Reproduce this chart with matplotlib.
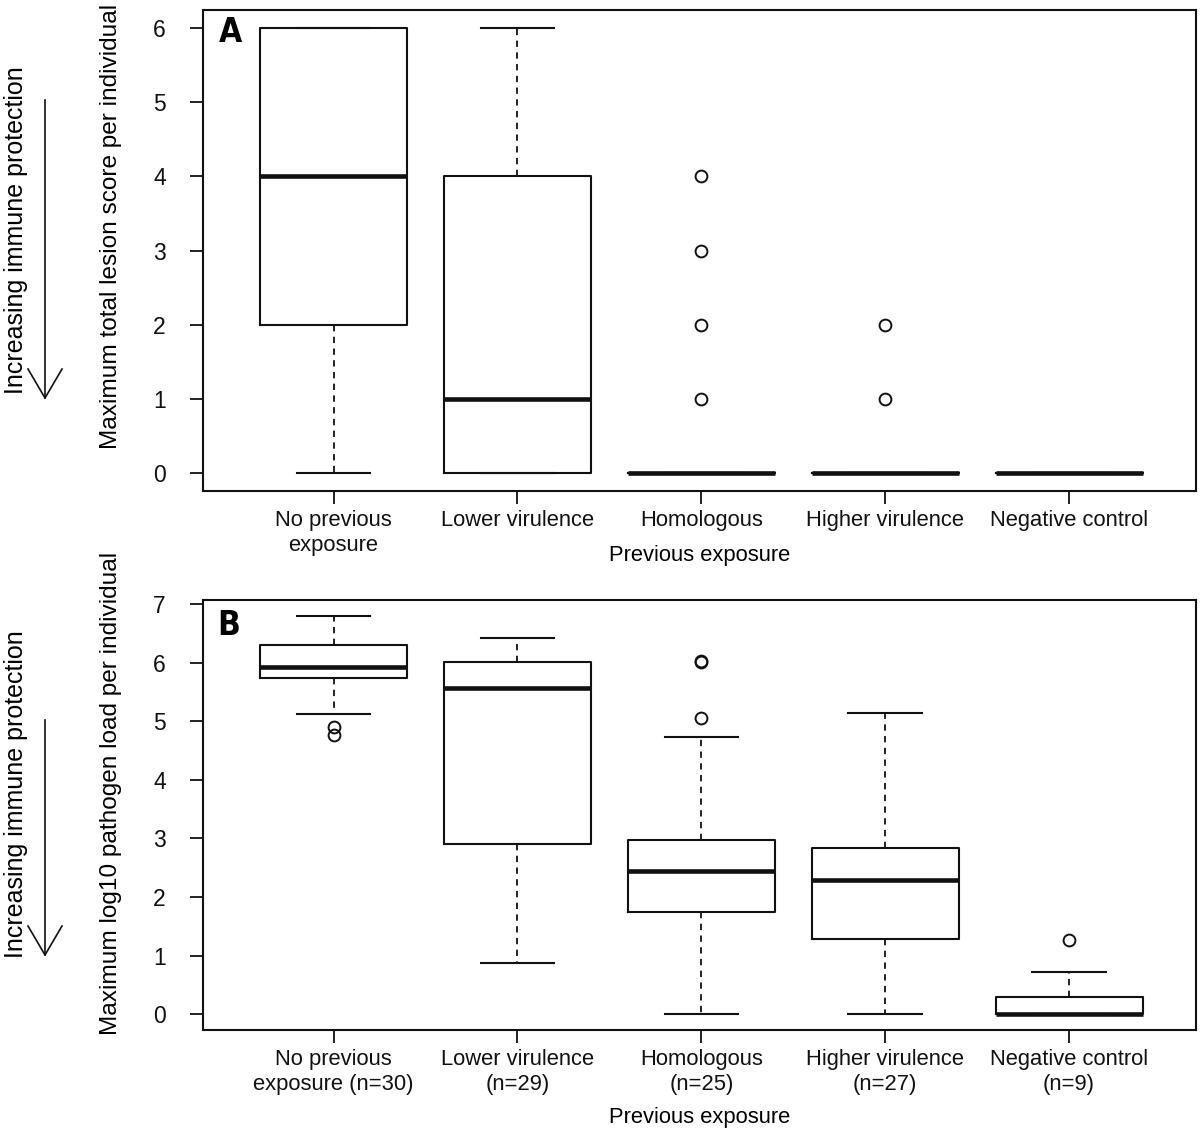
import matplotlib
matplotlib.use("Agg")
import matplotlib.pyplot as plt
from matplotlib.lines import Line2D

plt.rcParams['font.family'] = ['Liberation Sans', 'DejaVu Sans']

# ---------------- data ----------------
labels_A = ["No previous\nexposure", "Lower virulence", "Homologous",
            "Higher virulence", "Negative control"]
labels_B = ["No previous\nexposure (n=30)", "Lower virulence\n(n=29)",
            "Homologous\n(n=25)", "Higher virulence\n(n=27)",
            "Negative control\n(n=9)"]

A_whislo = [0, 0, 0, 0, 0]
A_q1 = [2, 0, 0, 0, 0]
A_med = [4, 1, 0, 0, 0]
A_q3 = [6, 4, 0, 0, 0]
A_whishi = [6, 6, 0, 0, 0]
A_fliers = [[], [], [1, 2, 3, 4], [1, 2], []]

B_whislo = [5.12, 0.88, 0.0, 0.0, 0.0]
B_q1 = [5.74, 2.91, 1.74, 1.29, 0.0]
B_med = [5.92, 5.57, 2.44, 2.29, 0.0]
B_q3 = [6.30, 6.02, 2.97, 2.84, 0.29]
B_whishi = [6.80, 6.43, 4.74, 5.14, 0.72]
B_fliers = [[4.90, 4.76], [], [6.03, 6.01, 5.06], [], [1.27]]

A_yticks = [0, 1, 2, 3, 4, 5, 6]
B_yticks = [0, 1, 2, 3, 4, 5, 6, 7]

# ---------------- layout helpers ----------------
W, H = 1200, 1131
fig = plt.figure(figsize=(W / 100, H / 100), dpi=100)


def fx(px):
    return px / W


def fy(py):
    return 1 - py / H


def make_axes(top, bottom):
    left, right = 203, 1196
    return fig.add_axes([fx(left), fy(bottom), (right - left) / W, (bottom - top) / H])


axA = make_axes(10, 491)
axB = make_axes(600, 1030)

FS = 15.8


def draw_panel(ax, lo, q1, med, q3, hi, fliers, labels, yticks, ylim):
    stats = []
    for i in range(len(labels)):
        stats.append(dict(whislo=lo[i], q1=q1[i], med=med[i], q3=q3[i],
                          whishi=hi[i], fliers=fliers[i]))
    ax.bxp(stats, positions=range(1, len(labels) + 1), widths=0.8,
           capwidths=0.4, showfliers=True,
           boxprops=dict(color='#111111', linewidth=1.5),
           medianprops=dict(color='#111111', linewidth=3.3, solid_capstyle='butt'),
           whiskerprops=dict(color='#111111', linewidth=1.3, linestyle=(0, (3.5, 3))),
           capprops=dict(color='#111111', linewidth=1.5),
           flierprops=dict(marker='o', markerfacecolor='none', markeredgecolor='#111111',
                           markersize=8.5, markeredgewidth=1.4, linestyle='none'))
    ax.set_xlim(0.29, 5.69)
    ax.set_ylim(*ylim)
    ax.set_yticks(yticks)
    ax.set_yticklabels([str(t) for t in yticks], fontsize=16.5)
    ax.set_xticks(range(1, len(labels) + 1))
    ax.set_xticklabels(labels, fontsize=FS, linespacing=1.25)
    for s in ax.spines.values():
        s.set_linewidth(1.5)
        s.set_color('#111111')
    ax.tick_params(axis='y', direction='out', length=9.4, width=1.3, pad=17.5,
                   colors='#111111')
    ax.tick_params(axis='x', direction='out', length=9.4, width=1.3, pad=4,
                   colors='#111111')


draw_panel(axA, A_whislo, A_q1, A_med, A_q3, A_whishi, A_fliers, labels_A,
           A_yticks, (-0.24, 6.24))
draw_panel(axB, B_whislo, B_q1, B_med, B_q3, B_whishi, B_fliers, labels_B,
           B_yticks, (-0.272, 7.072))

# x axis titles
fig.text(fx(700), fy(556), "Previous exposure", ha='center', va='center', fontsize=FS)
fig.text(fx(700), fy(1118), "Previous exposure", ha='center', va='center', fontsize=FS)

# y axis titles
fig.text(fx(111), fy(226), "Maximum total lesion score per individual", rotation=90,
         ha='center', va='center', fontsize=17.6)
fig.text(fx(111), fy(793), "Maximum log10 pathogen load per individual", rotation=90,
         ha='center', va='center', fontsize=17.6)

# side annotations
fig.text(fx(16), fy(394), "Increasing immune protection", rotation=90,
         ha='center', va='bottom', fontsize=18)
fig.text(fx(16), fy(958), "Increasing immune protection", rotation=90,
         ha='center', va='bottom', fontsize=18)


def arrow(top, tip):
    kw = dict(color='#111111', linewidth=1.2, transform=fig.transFigure)
    fig.add_artist(Line2D([fx(45), fx(45)], [fy(top), fy(tip)], **kw))
    fig.add_artist(Line2D([fx(28), fx(45), fx(62)], [fy(tip - 29), fy(tip), fy(tip - 29)], **kw))


arrow(100, 398)
arrow(720, 955)

# panel letters
fig.text(fx(219), fy(42), "A", ha='left', va='baseline', fontsize=24, fontweight='bold',
         family=['Liberation Sans Narrow', 'DejaVu Sans'], fontstretch='condensed')
fig.text(fx(217), fy(635), "B", ha='left', va='baseline', fontsize=24, fontweight='bold',
         family=['Liberation Sans Narrow', 'DejaVu Sans'], fontstretch='condensed')

fig.savefig("out.png", dpi=100, facecolor='white')
